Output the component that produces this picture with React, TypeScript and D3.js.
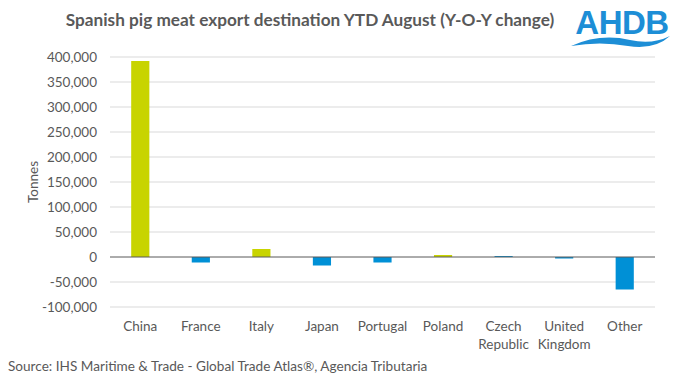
import React from "react";
import * as d3 from "d3";

const categories = ["China", "France", "Italy", "Japan", "Portugal", "Poland", "Czech\nRepublic", "United\nKingdom", "Other"];
const values = [392000, -11000, 16000, -17000, -11000, 4000, 2000, -3000, -65000];
const highlighted = ["China", "Italy", "Poland"];
const yTicks = [-100000, -50000, 0, 50000, 100000, 150000, 200000, 250000, 300000, 350000, 400000];

const W = 677, H = 378;
const FONT = "Lato, 'Open Sans', sans-serif";
const GREEN = "#C8D400";
const BLUE = "#0090D6";
const TXT = "#595959";

export default function App() {
  const x = d3.scaleBand<string>().domain(categories).range([110, 655]).paddingInner(0.7).paddingOuter(0.35);
  const y = d3.scaleLinear().domain([-100000, 400000]).range([307, 57]);
  const fmt = (v: number) => d3.format(",")(v).replace("\u2212", "-");
  return (
    <svg width={W} height={H} style={{ position: "absolute", left: 0, top: 0, background: "#fff" }}>
      <text x={310} y={26} textAnchor="middle" fontFamily={FONT} fontWeight="bold" fontSize={17.2} fill={TXT}>
        Spanish pig meat export destination YTD August (Y-O-Y change)
      </text>
      {/* AHDB logo */}
      <g>
        <text x={622} y={34} textAnchor="middle" fontFamily="'Liberation Sans', Arial, sans-serif" fontWeight="bold" fontSize={33} fill="#1D8ED6" letterSpacing={-0.5}>AHDB</text>
        <path d="M571,46 Q600,33 630,40 Q652,45 670,36 Q655,50 628,46 Q600,41 571,46 Z" fill="#1D8ED6" />
      </g>
      {yTicks.map((t) => (
        <g key={t}>
          {t !== 0 && <line x1={110} x2={655} y1={y(t)} y2={y(t)} stroke="#D9D9D9" strokeWidth={1} />}
          <text x={97} y={y(t)} dy="0.35em" textAnchor="end" fontFamily={FONT} fontSize={13.5} fill={TXT}>{fmt(t)}</text>
        </g>
      ))}
      <text transform={`translate(38,182) rotate(-90)`} textAnchor="middle" fontFamily={FONT} fontSize={13.5} fill={TXT}>Tonnes</text>
      {categories.map((c, i) => {
        const v = values[i];
        const y0 = y(0), y1 = y(v);
        return (
          <rect key={c} x={x(c)} width={x.bandwidth()} y={Math.min(y0, y1)} height={Math.abs(y1 - y0)}
            fill={highlighted.includes(c) ? GREEN : BLUE} />
        );
      })}
      <line x1={110} x2={655} y1={y(0)} y2={y(0)} stroke="#595959" strokeWidth={1} />
      {categories.map((c) => (
        <text key={c} textAnchor="middle" fontFamily={FONT} fontSize={13.5} fill={TXT}>
          {c.split("\n").map((l, j) => (
            <tspan key={j} x={(x(c) as number) + x.bandwidth() / 2} y={331 + j * 18}>{l}</tspan>
          ))}
        </text>
      ))}
      <text x={8} y={371} fontFamily={FONT} fontSize={13.6} fill={TXT}>
        Source: IHS Maritime &amp; Trade - Global Trade Atlas®, Agencia Tributaria
      </text>
    </svg>
  );
}
